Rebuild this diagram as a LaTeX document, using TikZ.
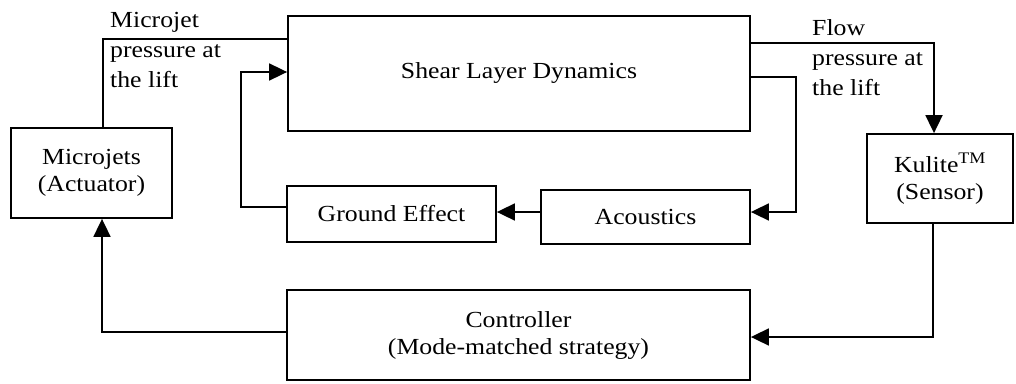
\documentclass[tikz,border=0pt]{standalone}
\usepackage{fontspec}
\setmainfont{Liberation Serif}[FakeStretch=1.12]
\usetikzlibrary{arrows.meta}
\begin{document}
\begin{tikzpicture}[x=1pt,y=-1pt,
  blk/.style={draw, line width=1.8pt, align=center, inner sep=0pt, font=\fontsize{23}{27}\selectfont},
  lbl/.style={align=left, inner sep=0pt, font=\fontsize{23}{30}\selectfont},
  conn/.style={line width=1.8pt},
  arr/.style={conn, -{Triangle[length=18pt,width=17pt]}}]
\useasboundingbox (0,0) rectangle (1016,383);
\node[blk, minimum width=462pt, minimum height=115pt] (shear) at (519,73.5) {Shear Layer Dynamics};
\node[blk, minimum width=161pt, minimum height=90pt] (mj) at (91.5,173) {Microjets\\(Actuator)};
\node[blk, minimum width=146pt, minimum height=89pt] (kul) at (940,178.5) {Kulite\textsuperscript{TM}\\(Sensor)};
\node[blk, minimum width=209pt, minimum height=56pt] (ge) at (391.5,214) {Ground Effect};
\node[blk, minimum width=209pt, minimum height=54pt] (acou) at (645.5,217) {Acoustics};
\node[blk, minimum width=463pt, minimum height=90pt] (ctrl) at (518.5,335) {Controller\\(Mode-matched strategy)};
\node[lbl, anchor=north west] (l1) at (110,12.5) {Microjet\\pressure at\\the lift};
\node[lbl, anchor=north west] (l2) at (812,19.5) {Flow\\pressure at\\the lift};
\draw[conn] ([xshift=11.5pt]mj.north) |- ([yshift=34.5pt]shear.west);
\draw[arr] ([yshift=30.5pt]shear.east) -| ([xshift=-6pt]kul.north);
\draw[arr] ([yshift=-3.5pt]shear.east) -- ++(45pt,0) |- ([yshift=5pt]acou.east);
\draw[arr] ([yshift=5pt]acou.west) -- ([yshift=2pt]ge.east);
\draw[arr] ([yshift=7pt]ge.west) -- ++(-45pt,0) |- ([yshift=1.5pt]shear.west);
\draw[arr] ([xshift=-7pt]kul.south) |- ([yshift=-2pt]ctrl.east);
\draw[arr] ([yshift=3pt]ctrl.west) -| ([xshift=10.5pt]mj.south);
\end{tikzpicture}
\end{document}
